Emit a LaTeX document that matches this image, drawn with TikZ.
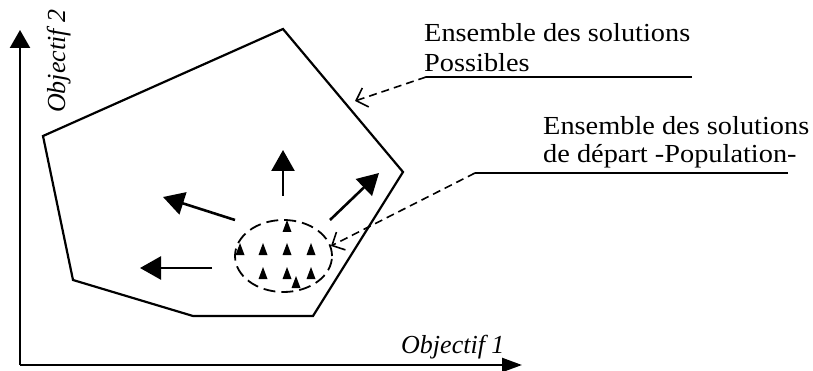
\documentclass[tikz,border=0pt]{standalone}
\usepackage{fontspec}
\setmainfont{Liberation Serif}
\newfontfamily\labelfont[FakeStretch=1.09]{Liberation Serif}
\usetikzlibrary{arrows.meta,shapes.geometric}
\begin{document}
\begin{tikzpicture}[x=1pt,y=-1pt,
  axis/.style={line width=2.4pt},
  edge/.style={line width=2.2pt,line join=miter},
  move/.style={line width=2.6pt,-{Triangle[length=21pt,width=23pt]}},
  pointer/.style={line width=1.6pt,dash pattern=on 8pt off 5pt,
    -{Straight Barb[length=10pt,width=20pt,line width=1.6pt]}},
  rule/.style={line width=1.8pt},
  caption/.style={inner sep=0pt,anchor=base west,font=\labelfont\fontsize{26}{30}\selectfont},
  axislabel/.style={inner sep=0pt,font=\itshape\fontsize{26}{30}\selectfont},
  individual/.style={fill=black}]
\useasboundingbox (0,0) rectangle (813,371);

% axes
\coordinate (O) at (20,365);
\coordinate (ytip) at (20,30);
\coordinate (xtip) at (522,365);
\draw[axis,-{Triangle[length=18pt,width=20pt]}] (O) -- (ytip);
\draw[axis,-{Triangle[length=20pt,width=14pt]}] (O) -- (xtip);
\node[axislabel,anchor=base west] (obj1) at (401,353) {Objectif 1};
\node[axislabel,rotate=90,anchor=base west] (obj2) at (65,113) {Objectif 2};

% region of feasible solutions
\coordinate (p1) at (43,136);
\coordinate (p2) at (283,29);
\coordinate (p3) at (403,172);
\coordinate (p4) at (313,316);
\coordinate (p5) at (193,316);
\coordinate (p6) at (73,280);
\draw[edge] (p1) -- (p2) -- (p3) -- (p4) -- (p5) -- (p6) -- cycle;

% starting population
\node[ellipse,draw,line width=1.8pt,dash pattern=on 12pt off 6pt,
      minimum width=97pt,minimum height=72pt,inner sep=0pt] (pop) at (283.5,256) {};
\foreach \x/\y in {287/220, 240/243, 263/243, 287/243, 311/243,
                   263/267, 287/267, 311/267, 296/276}
  \fill[individual] (\x,\y) -- (\x+4.5,\y+12) -- (\x-4.5,\y+12) -- cycle;

% search directions
\coordinate (aup0) at (283,196);   \coordinate (aup1) at (283,150);
\coordinate (aul0) at (235,220);   \coordinate (aul1) at (163,197);
\coordinate (aur0) at (330,220);   \coordinate (aur1) at (379,173);
\coordinate (al0) at (212,268);    \coordinate (al1) at (140,268);
\draw[move] (aup0) -- (aup1);
\draw[move] (aul0) -- (aul1);
\draw[move] (aur0) -- (aur1);
\draw[move] (al0) -- (al1);

% captions
\node[caption] (c1a) at (424,42) {Ensemble des solutions};
\node[caption] (c1b) at (424,72) {Possibles};
\node[caption] (c2a) at (543,135) {Ensemble des solutions};
\node[caption] (c2b) at (543,163) {de départ -Population-};

% leaders
\coordinate (u1l) at (426,77);  \coordinate (u1r) at (692,77);
\coordinate (u2l) at (475,173); \coordinate (u2r) at (788,173);
\coordinate (t1) at (355,101);
\coordinate (t2) at (331,246);
\draw[rule] (u1r) -- (u1l);
\draw[rule] (u2r) -- (u2l);
\draw[pointer] (u1l) -- (t1);
\draw[pointer] (u2l) -- (t2);
\end{tikzpicture}
\end{document}
